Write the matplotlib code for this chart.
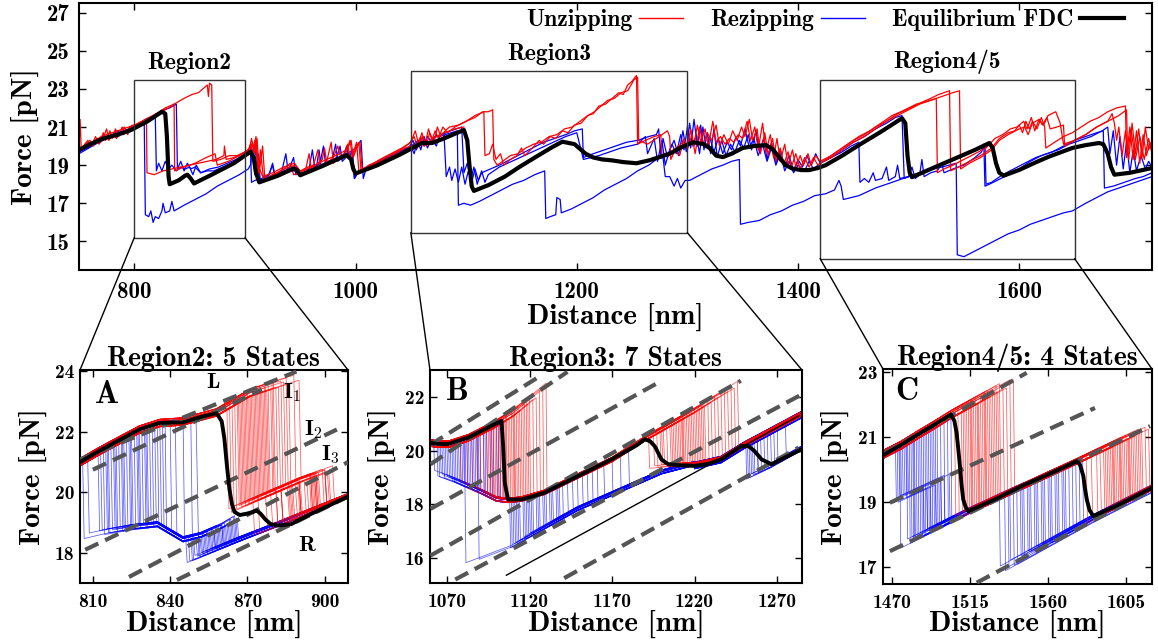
import numpy as np
import matplotlib.pyplot as plt
from matplotlib.lines import Line2D
from matplotlib.patches import Rectangle, ConnectionPatch

plt.rcParams['font.family'] = 'cmb10'
plt.rcParams['mathtext.fontset'] = 'cm'
plt.rcParams['axes.unicode_minus'] = False

RED = '#ff0000'
BLUE = '#0000ff'
DASH = '#555555'

# ---------------- top panel: full trace ----------------
top_eq = [(750, 19.79), (760, 20.1), (772, 20.4), (785, 20.6), (797, 20.84), (812, 21.3), (825, 21.8),
          (828, 21.7), (829.5, 20.5), (831, 18.4), (832, 18.0), (840, 18.2), (846, 18.45), (848, 18.5),
          (851, 18.3), (854, 18.04), (870, 18.5), (890, 19.1), (905, 19.7), (908, 19.4), (910, 18.6),
          (913, 18.1), (930, 18.45), (944, 18.82), (947, 18.75), (950, 18.47), (970, 18.95), (992, 19.53),
          (996, 19.3), (998, 18.8), (1000, 18.56), (1020, 19.0), (1040, 19.55), (1060, 20.16), (1069, 20.16),
          (1080, 20.4), (1090, 20.65), (1098, 20.84), (1101, 20.3), (1103, 19.0), (1105, 17.9), (1107, 17.65),
          (1120, 17.95), (1135, 18.4), (1148, 18.9), (1165, 19.5), (1178, 19.95), (1187, 20.23), (1198, 20.1),
          (1208, 19.6), (1215, 19.4), (1223, 19.3), (1232, 19.25), (1242, 19.16), (1254, 19.1), (1266, 19.26),
          (1284, 19.6), (1295, 19.95), (1305, 20.2), (1315, 20.1), (1320, 19.9), (1326, 19.5), (1332, 19.42),
          (1340, 19.6), (1350, 19.9), (1360, 20.0), (1371, 20.05), (1377, 19.85), (1383, 19.4), (1389, 19.0),
          (1395, 18.82), (1403, 18.74), (1410, 18.74), (1418, 18.85), (1425, 19.0), (1440, 19.5), (1455, 20.05),
          (1475, 20.75), (1494, 21.46), (1497, 21.2), (1499, 19.5), (1501, 18.6), (1503, 18.37), (1520, 18.8),
          (1540, 19.3), (1560, 19.8), (1573, 20.16), (1576, 19.9), (1579, 19.1), (1582, 18.6), (1586, 18.45),
          (1600, 18.75), (1615, 19.15), (1627, 19.45), (1648, 19.9), (1660, 20.05), (1672, 20.16), (1676, 20.1),
          (1680, 19.6), (1683, 18.9), (1686, 18.5), (1700, 18.6), (1720, 18.85)]

red_top_1 = [(750, 20.0), (751, 21.4), (752, 19.9), (756, 20.1), (760, 20.3), (763, 20.0), (766, 20.4), (769, 20.2),
             (772, 20.7), (774, 20.3), (778, 20.8), (780, 20.4), (783, 20.9), (786, 20.5), (789, 21.0), (792, 20.7),
             (796, 21.0), (800, 21.1), (805, 21.2), (812, 21.4), (820, 21.7), (828, 22.0), (836, 22.2), (845, 22.5),
             (852, 22.7), (858, 22.8), (862, 23.0), (866, 23.2), (867, 22.6), (868, 23.3), (870, 23.2), (871, 19.2),
             (878, 19.3), (886, 19.5), (893, 19.5), (900, 19.7), (905, 19.9), (907, 20.2), (909, 19.6), (911, 20.4),
             (913, 18.6), (916, 20.0), (918, 18.3), (925, 18.5), (932, 18.7), (940, 18.9), (946, 19.0), (950, 18.7),
             (957, 18.9), (962, 19.0), (966, 19.8), (968, 18.9), (974, 19.2), (978, 20.2), (980, 19.1), (985, 19.4),
             (990, 19.6), (993, 20.1), (995, 19.3), (999, 19.7), (1003, 20.2), (1005, 18.7), (1012, 19.0),
             (1020, 19.2), (1030, 19.5), (1040, 19.8), (1048, 20.1), (1053, 20.5), (1056, 19.9), (1060, 20.7),
             (1063, 20.1), (1066, 20.9), (1069, 20.3), (1072, 20.8), (1075, 20.4), (1079, 21.0), (1083, 20.7),
             (1090, 21.0), (1100, 21.3), (1108, 21.6), (1116, 21.8), (1117, 19.5), (1121, 19.6), (1124, 20.1),
             (1127, 19.3), (1131, 19.6), (1134, 19.0), (1140, 19.3), (1146, 19.5), (1150, 19.9), (1153, 19.5),
             (1160, 19.9), (1166, 20.3), (1170, 20.1), (1176, 20.5), (1181, 20.4), (1187, 20.8), (1192, 20.7),
             (1198, 21.1), (1204, 21.2), (1210, 21.6), (1215, 21.7), (1220, 22.1), (1226, 22.2), (1232, 22.5),
             (1238, 22.8), (1242, 22.7), (1246, 23.2), (1250, 23.4), (1254, 23.7), (1255, 20.1), (1262, 20.3),
             (1270, 20.5), (1276, 20.6), (1277, 19.5), (1283, 19.6), (1290, 19.9), (1296, 20.2), (1300, 20.0),
             (1303, 20.9), (1306, 20.0), (1309, 21.1), (1312, 20.2), (1316, 20.9), (1319, 20.0), (1323, 21.3),
             (1326, 20.2), (1330, 20.5), (1334, 20.1), (1338, 20.4), (1342, 20.2), (1346, 20.6), (1350, 20.4),
             (1354, 21.3), (1357, 20.3), (1361, 21.0), (1364, 19.8), (1368, 21.2), (1371, 19.7), (1375, 20.6),
             (1378, 19.4), (1381, 20.4), (1384, 19.2), (1388, 20.1), (1391, 19.0), (1395, 19.8), (1398, 18.9),
             (1402, 19.5), (1405, 19.0), (1409, 19.6), (1412, 19.0), (1416, 19.5), (1420, 19.2), (1430, 19.5),
             (1440, 19.9), (1450, 20.3), (1460, 20.6), (1470, 21.0), (1480, 21.3), (1490, 21.7), (1498, 21.9),
             (1505, 22.1), (1512, 22.3), (1520, 22.5), (1527, 22.7), (1532, 22.8), (1537, 22.9), (1538, 18.7),
             (1545, 18.9), (1555, 19.2), (1565, 19.5), (1575, 19.9), (1582, 20.4), (1590, 20.7), (1596, 20.8),
             (1600, 21.1), (1603, 20.7), (1606, 21.3), (1609, 20.9), (1612, 21.3), (1616, 20.9), (1620, 21.5),
             (1623, 21.0), (1624, 19.9), (1632, 20.2), (1640, 20.5), (1648, 20.7), (1656, 21.0), (1664, 21.3),
             (1672, 21.5), (1680, 21.8), (1688, 22.0), (1696, 22.1), (1697, 19.4), (1700, 21.0), (1703, 19.3),
             (1706, 20.8), (1709, 19.1), (1712, 20.6), (1715, 19.5), (1718, 20.2), (1720, 19.7)]

red_top_2 = [(750, 19.9), (754, 20.0), (758, 20.3), (761, 20.0), (765, 20.5), (768, 20.1), (771, 20.3), (775, 20.9),
             (777, 20.3), (781, 20.6), (784, 20.4), (788, 20.8), (791, 21.0), (794, 20.6), (798, 21.1), (802, 21.0),
             (807, 21.2), (811, 21.3), (811.5, 18.6), (818, 18.5), (826, 18.7), (834, 18.8), (842, 18.9), (850, 19.0),
             (858, 19.1), (866, 19.2), (874, 19.3), (881, 19.5), (881.5, 20.0), (883, 19.3), (890, 19.4), (898, 19.6),
             (904, 19.8), (906, 20.4), (908, 19.7), (910, 20.5), (912, 18.5), (914, 19.8), (917, 18.2), (923, 18.4),
             (930, 18.6), (935, 18.8), (941, 19.1), (944, 18.5), (950, 18.6), (955, 18.8), (958, 19.6), (960, 18.8),
             (964, 19.0), (970, 19.3), (972, 19.9), (974, 19.1), (980, 19.4), (984, 20.0), (987, 19.3), (991, 19.6),
             (996, 20.3), (998, 19.4), (1001, 19.9), (1004, 20.2), (1006, 18.8), (1014, 19.0), (1022, 19.3),
             (1032, 19.6), (1042, 19.9), (1050, 20.2), (1054, 20.8), (1057, 20.1), (1061, 20.5), (1064, 20.0),
             (1067, 20.7), (1071, 20.2), (1074, 21.0), (1077, 20.5), (1081, 20.8), (1085, 21.0), (1093, 21.1),
             (1100, 21.3), (1108, 21.5), (1115, 21.8), (1120, 21.8), (1124, 21.9), (1125, 19.3), (1128, 19.0),
             (1133, 19.2), (1140, 19.5), (1147, 19.6), (1154, 19.9), (1161, 20.1), (1168, 20.2), (1175, 20.5),
             (1182, 20.6), (1189, 20.9), (1196, 21.0), (1203, 21.3), (1210, 21.6), (1216, 21.8), (1222, 22.1),
             (1228, 22.4), (1234, 22.5), (1240, 22.8), (1246, 22.9), (1252, 23.5), (1255, 23.6), (1256, 20.3),
             (1264, 20.1), (1272, 20.4), (1282, 20.8), (1284, 20.5), (1285, 19.3), (1289, 19.8), (1293, 19.5),
             (1297, 20.4), (1300, 19.8), (1304, 20.6), (1307, 19.6), (1311, 21.0), (1314, 20.1), (1318, 20.7),
             (1322, 20.3), (1326, 21.1), (1329, 20.0), (1333, 20.6), (1337, 20.1), (1341, 20.8), (1345, 20.3),
             (1349, 21.0), (1352, 20.5), (1356, 21.4), (1359, 20.3), (1363, 20.9), (1366, 19.6), (1370, 20.7),
             (1373, 19.5), (1377, 20.4), (1380, 19.2), (1384, 19.9), (1387, 19.0), (1391, 19.7), (1394, 18.9),
             (1398, 19.6), (1402, 18.8), (1406, 19.4), (1410, 18.9), (1414, 19.4), (1418, 19.0), (1425, 19.3),
             (1435, 19.7), (1445, 20.1), (1455, 20.5), (1465, 20.8), (1475, 21.2), (1485, 21.6), (1493, 21.8),
             (1500, 22.0), (1507, 22.2), (1514, 22.3), (1520, 22.4), (1525, 22.5), (1526, 18.6), (1532, 18.8),
             (1540, 19.0), (1550, 19.3), (1560, 19.6), (1570, 19.9), (1578, 20.4), (1585, 20.6), (1592, 20.9),
             (1598, 21.0), (1604, 21.3), (1607, 20.9), (1611, 21.5), (1614, 20.8), (1618, 21.4), (1621, 21.1),
             (1625, 21.5), (1628, 20.9), (1634, 21.0), (1640, 21.1), (1641, 20.0), (1650, 20.3), (1660, 20.6),
             (1670, 21.0), (1680, 21.3), (1684, 21.7), (1686, 21.2), (1688, 20.3), (1690, 21.0), (1693, 19.5),
             (1696, 20.8), (1699, 19.3), (1702, 21.2), (1705, 19.6), (1708, 20.9), (1711, 19.4), (1714, 21.0),
             (1717, 19.8), (1720, 20.3)]

red_top_3 = [(750, 19.8), (760, 20.1), (770, 20.5), (780, 20.7), (790, 20.9), (800, 21.1), (810, 21.4), (820, 21.7),
             (828, 21.9), (834, 22.1), (836, 22.2), (836.5, 18.7), (845, 18.9), (855, 19.1), (865, 19.4), (873, 19.6),
             (875, 19.0), (885, 19.2), (895, 19.5), (903, 19.8), (905, 20.1), (907, 19.5), (909, 20.3), (912, 19.0),
             (916, 18.4), (925, 18.6), (935, 18.9), (945, 19.1), (949, 18.6), (960, 18.9), (970, 19.2), (982, 19.5),
             (992, 19.8), (995, 20.3), (997, 19.5), (1001, 20.2), (1003, 18.7), (1015, 19.0), (1030, 19.4),
             (1045, 19.9), (1056, 20.1), (1059, 20.5), (1062, 20.0), (1070, 20.4), (1080, 20.7), (1090, 20.9),
             (1098, 21.0), (1420, 19.1), (1430, 19.4), (1440, 19.8), (1450, 20.2), (1460, 20.5), (1470, 20.9),
             (1480, 21.3), (1490, 21.6), (1500, 21.9), (1510, 22.2), (1520, 22.4), (1530, 22.6), (1540, 22.8),
             (1546, 22.9), (1547, 18.8), (1555, 19.1), (1565, 19.4), (1575, 19.8), (1582, 20.3), (1590, 20.6),
             (1600, 20.9), (1605, 21.0), (1608, 20.6), (1612, 21.2), (1618, 21.4), (1622, 21.1), (1626, 21.6),
             (1633, 21.8), (1637, 21.2), (1640, 20.1), (1650, 20.3), (1660, 20.6), (1670, 21.0), (1680, 21.3),
             (1690, 21.6), (1697, 21.9), (1698, 19.6), (1701, 20.9), (1705, 19.3), (1709, 20.5), (1713, 19.3),
             (1717, 20.4), (1720, 19.6)]
red_top_3_break = 1098  # trace 3 is missing between this x and 1420

blue_top_1 = [(750, 19.7), (755, 19.9), (760, 20.0), (765, 20.2), (770, 20.3), (775, 20.5), (780, 20.6), (785, 20.8),
              (790, 20.6), (795, 20.9), (800, 21.0), (805, 21.1), (809, 21.2), (810, 16.4), (813, 16.3), (815, 16.6),
              (817, 16.0), (819, 16.3), (822, 16.2), (825, 16.6), (826, 17.0), (828, 16.5), (832, 16.6), (834, 17.1),
              (836, 16.6), (845, 16.9), (855, 17.2), (865, 17.5), (875, 17.9), (885, 18.2), (895, 18.5), (903, 18.8),
              (905, 19.0), (907, 19.8), (909, 18.5), (912, 19.6), (914, 18.1), (920, 18.2), (930, 18.5), (940, 18.8),
              (944, 19.4), (946, 18.5), (953, 18.6), (960, 18.9), (965, 19.0), (967, 19.8), (969, 18.9), (976, 19.2),
              (983, 19.4), (986, 20.0), (988, 19.2), (993, 19.5), (997, 19.7), (999, 18.3), (1002, 18.6), (1010, 18.8),
              (1020, 19.1), (1030, 19.4), (1040, 19.7), (1048, 19.9), (1052, 20.3), (1055, 19.8), (1058, 20.4),
              (1062, 20.0), (1065, 20.5), (1069, 20.2), (1073, 20.6), (1077, 20.3), (1081, 20.6), (1092, 20.8),
              (1093, 16.9), (1098, 17.0), (1104, 16.9), (1112, 17.1), (1122, 17.4), (1132, 17.7), (1142, 18.0),
              (1152, 18.2), (1162, 18.5), (1171, 18.7), (1172, 16.2), (1176, 16.3), (1181, 16.4), (1182, 17.3),
              (1185, 17.2), (1186, 16.5), (1195, 16.7), (1205, 17.0), (1215, 17.3), (1225, 17.7), (1235, 18.0),
              (1245, 18.3), (1255, 18.7), (1265, 19.0), (1272, 19.3), (1278, 19.4), (1280, 18.4), (1284, 18.4),
              (1288, 17.9), (1291, 18.3), (1294, 17.8), (1298, 18.2), (1302, 18.2), (1312, 18.5), (1322, 18.8),
              (1332, 19.0), (1340, 19.2), (1347, 19.3), (1348, 15.9), (1355, 16.0), (1365, 16.1), (1375, 16.4),
              (1385, 16.6), (1395, 16.9), (1405, 17.1), (1415, 17.4), (1425, 17.5), (1433, 17.7), (1437, 18.2),
              (1439, 17.9), (1441, 17.2), (1455, 17.4), (1470, 17.8), (1485, 18.1), (1500, 18.4), (1515, 18.7),
              (1530, 18.9), (1543, 19.1), (1544, 14.3), (1550, 14.2), (1560, 14.5), (1570, 14.8), (1580, 15.1),
              (1590, 15.4), (1600, 15.6), (1610, 15.9), (1620, 16.1), (1630, 16.3), (1640, 16.5), (1648, 16.6),
              (1660, 17.0), (1670, 17.3), (1680, 17.6), (1690, 17.8), (1700, 18.0), (1710, 18.2), (1720, 18.4)]

blue_top_2 = [(750, 19.6), (756, 19.8), (762, 20.0), (768, 20.2), (774, 20.4), (780, 20.5), (786, 20.7), (792, 20.8),
              (798, 21.0), (804, 21.1), (810, 21.3), (816, 21.4), (819, 21.5), (820, 18.7), (822, 19.1), (825, 18.7),
              (828, 19.2), (831, 18.8), (834, 19.0), (838, 18.7), (842, 18.9), (846, 18.8), (850, 18.9), (853, 18.5),
              (856, 19.0), (860, 18.6), (866, 18.7), (872, 18.7), (880, 18.9), (888, 19.1), (896, 19.3), (904, 19.6),
              (906, 20.0), (908, 18.9), (910, 19.9), (913, 18.2), (920, 18.3), (925, 19.0), (927, 18.4), (933, 18.6),
              (937, 19.6), (939, 18.7), (945, 18.7), (952, 18.5), (958, 18.8), (961, 19.8), (963, 18.9), (968, 19.1),
              (971, 20.0), (973, 19.0), (979, 19.3), (982, 20.1), (984, 19.2), (989, 19.5), (992, 20.0), (994, 19.4),
              (997, 19.7), (999, 18.3), (1003, 18.7), (1012, 18.9), (1022, 19.2), (1032, 19.5), (1042, 19.8),
              (1050, 20.0), (1053, 19.6), (1056, 20.3), (1059, 19.8), (1062, 20.5), (1065, 19.9), (1069, 20.4),
              (1073, 20.0), (1076, 20.5), (1080, 20.6), (1082, 18.4), (1085, 18.9), (1087, 18.2), (1090, 18.8),
              (1093, 18.1), (1096, 18.9), (1099, 18.0), (1102, 18.7), (1105, 18.1), (1108, 18.8), (1111, 18.2),
              (1114, 18.6), (1118, 18.7), (1130, 19.0), (1140, 19.3), (1150, 19.6), (1160, 19.9), (1170, 20.2),
              (1180, 20.4), (1190, 20.6), (1198, 20.8), (1205, 20.9), (1206, 19.4), (1215, 19.6), (1225, 19.8),
              (1235, 20.0), (1245, 20.2), (1255, 20.3), (1265, 20.5), (1272, 20.6), (1274, 20.9), (1276, 19.5),
              (1278, 20.4), (1282, 19.4), (1286, 20.1), (1290, 19.6), (1294, 20.6), (1297, 19.8), (1300, 21.0),
              (1303, 19.9), (1306, 21.4), (1309, 20.0), (1312, 21.1), (1315, 19.8), (1318, 20.7), (1321, 19.6),
              (1324, 20.9), (1327, 19.4), (1331, 20.3), (1335, 19.5), (1339, 20.1), (1343, 19.7), (1347, 20.3),
              (1351, 19.9), (1355, 20.6), (1358, 19.8), (1362, 20.8), (1365, 19.7), (1369, 20.4), (1372, 19.3),
              (1376, 20.2), (1380, 19.1), (1384, 19.8), (1388, 18.9), (1392, 19.5), (1396, 18.7), (1400, 19.3),
              (1404, 18.9), (1408, 19.5), (1412, 19.0), (1416, 19.6), (1420, 19.1), (1430, 19.4), (1440, 19.8),
              (1450, 20.2), (1460, 20.5), (1470, 20.9), (1480, 21.2), (1488, 21.5), (1494, 21.6), (1496, 18.3),
              (1500, 18.4), (1503, 18.9), (1506, 18.3), (1510, 18.5), (1512, 19.3), (1514, 18.4), (1520, 18.6),
              (1526, 18.7), (1530, 19.1), (1532, 18.6), (1540, 18.8), (1550, 19.0), (1560, 19.4), (1566, 19.7),
              (1568, 20.1), (1569, 17.9), (1573, 18.0), (1580, 18.2), (1590, 18.5), (1600, 18.8), (1610, 19.2),
              (1620, 19.5), (1630, 19.7), (1640, 20.0), (1650, 20.3), (1660, 20.5), (1670, 20.7), (1676, 20.8),
              (1677, 17.8), (1685, 17.9), (1695, 18.1), (1705, 18.3), (1712, 18.4), (1720, 18.6)]

blue_top_3 = [(750, 19.7), (758, 19.9), (766, 20.2), (772, 20.3), (778, 20.5), (784, 20.6), (790, 20.8), (796, 20.9),
              (802, 21.1), (810, 21.4), (818, 21.6), (826, 21.9), (832, 22.0), (838, 22.2), (839, 18.8), (842, 19.2),
              (845, 18.7), (848, 19.1), (851, 18.8), (855, 18.9), (860, 18.6), (868, 18.8), (876, 18.9), (884, 19.1),
              (892, 19.3), (900, 19.6), (905, 19.8), (906, 18.1), (909, 18.2), (915, 18.3), (922, 18.5), (925, 19.1),
              (927, 18.5), (935, 18.7), (945, 18.9), (950, 18.5), (958, 18.7), (965, 18.9), (975, 19.2), (985, 19.4),
              (995, 19.7), (1000, 19.9), (1005, 20.3), (1007, 18.3), (1010, 18.9), (1020, 19.2), (1030, 19.4),
              (1040, 19.7), (1050, 20.0), (1055, 20.2), (1060, 20.4), (1066, 20.2), (1072, 20.5), (1078, 20.6),
              (1086, 20.8), (1096, 21.0), (1098, 18.6), (1101, 19.1), (1104, 18.2), (1107, 18.9), (1110, 18.0),
              (1114, 18.7), (1117, 18.1), (1120, 18.5), (1130, 18.9), (1145, 19.3), (1160, 19.7), (1175, 20.1),
              (1190, 20.5), (1200, 20.7), (1206, 19.3), (1220, 19.5), (1240, 19.9), (1255, 20.1), (1262, 20.5),
              (1264, 19.6), (1270, 20.4), (1273, 19.2), (1277, 20.3), (1280, 19.0), (1284, 19.8), (1288, 20.3),
              (1292, 19.5), (1296, 20.8), (1299, 19.7), (1302, 21.2), (1305, 20.0), (1308, 20.6), (1311, 19.6),
              (1314, 21.0), (1317, 19.9), (1320, 20.5), (1324, 19.7), (1328, 20.4), (1332, 19.6), (1336, 20.2),
              (1340, 19.8), (1344, 20.5), (1348, 20.0), (1352, 20.9), (1356, 19.9), (1360, 20.4), (1364, 19.5),
              (1368, 20.1), (1372, 19.2), (1376, 19.9), (1380, 19.0), (1384, 19.6), (1388, 18.7), (1392, 19.2),
              (1396, 18.6), (1400, 19.0), (1406, 18.7), (1410, 19.2), (1414, 18.8), (1420, 19.1), (1430, 19.4),
              (1440, 19.7), (1448, 20.0), (1455, 20.2), (1456, 18.1), (1460, 18.3), (1464, 18.1), (1468, 18.6),
              (1470, 18.2), (1476, 18.3), (1480, 18.9), (1482, 18.2), (1488, 18.4), (1490, 19.0), (1492, 18.3),
              (1500, 18.4), (1510, 18.6), (1520, 18.8), (1530, 19.0), (1540, 19.3), (1550, 19.5), (1560, 19.8),
              (1567, 20.0), (1569, 20.1), (1570, 18.0), (1575, 18.1), (1585, 18.5), (1595, 18.8), (1605, 19.1),
              (1615, 19.4), (1625, 19.6), (1635, 19.8), (1645, 20.1), (1655, 20.3), (1665, 20.5), (1675, 20.8),
              (1680, 21.0), (1682, 19.6), (1685, 20.8), (1688, 19.0), (1691, 20.5), (1694, 18.8), (1697, 20.2),
              (1700, 18.6), (1703, 19.8), (1706, 18.7), (1710, 19.5), (1714, 18.8), (1717, 19.2), (1720, 18.9)]

# zoom boxes on the top panel: (label, x0, x1, y0, y1)
regions = [('Region2', 800, 900, 15.2, 23.47),
           ('Region3', 1050, 1300, 15.46, 23.96),
           ('Region4/5', 1420, 1650, 14.1, 23.47)]

# ---------------- panel A ----------------
A_eq = [(805, 21.0), (811, 21.3), (817, 21.58), (828, 22.08), (836, 22.3), (845, 22.32), (852, 22.5), (858, 22.62),
        (860, 22.35), (861, 21.8), (862, 20.9), (863, 20.1), (864, 19.6), (865, 19.35), (867, 19.25), (870, 19.3),
        (872, 19.35), (873.5, 19.4), (875, 19.3), (877, 19.1), (879, 18.95), (882, 18.9), (887, 18.95),
        (895, 19.3), (909, 19.86)]
A_L = [(805, 21.0), (811, 21.3), (817, 21.58), (828, 22.08), (836, 22.3), (845, 22.35), (858, 22.65), (871, 23.3),
       (880, 23.55), (909, 24.3)]
A_I3 = [(855, 19.1), (863, 19.4), (875, 19.85), (890, 20.4), (909, 21.0)]
A_mid = [(805, 18.5), (815, 18.7), (825, 18.85), (835, 18.95), (840, 18.7), (845, 18.45), (852, 18.6), (860, 18.9),
         (866, 19.2), (880, 19.6), (909, 20.4)]
A_R = [(805, 16.3), (838, 17.45), (851, 17.87), (866, 18.4), (881, 18.9), (895, 19.38), (909, 19.86)]
A_dash = [[(805, 21.09), (889, 24.0)], [(810, 20.75), (875.6, 23.4)], [(807, 18.1), (904.7, 22.08)],
          [(824, 17.2), (909, 21.0)], [(842.6, 17.1), (909, 19.86)]]
A_red_r1 = [862, 863, 864, 865, 866, 866.5, 867, 868, 868.5, 869, 870, 870.5, 871, 872, 872.5, 873, 874, 874.5, 875,
            876, 876.5, 877, 878, 879, 880, 881, 882, 883, 884, 885, 886, 888, 890, 871.5, 869.5, 867.5, 873.5,
            877.5, 879.5, 875.5]
A_red_gap = [12, 20, 8, 25, 15, 30, 10, 18, 22, 14, 9, 27, 16, 11, 24, 19, 7, 13, 21, 17, 10, 26, 12, 15, 20, 9, 18,
             14, 11, 16, 13, 8, 10, 23, 19, 28, 12, 17, 22, 14]
A_blue_b1 = [848, 850, 851, 852, 853, 854, 855, 856, 857, 858, 859, 860, 861, 862, 863, 864, 865, 866, 849, 852.5,
             855.5, 858.5, 861.5, 847, 853.5, 856.5, 859.5, 862.5, 864.5, 850.5, 857.5, 860.5, 854.5, 863.5, 851.5,
             846, 865.5, 848.5, 857, 860]
A_blue_b2 = [812, 814, 815, 816, 817, 818, 819, 820, 821, 822, 823, 824, 825, 826, 827, 828, 829, 830, 831, 832, 833,
             834, 835, 836, 838, 840, 842, 845, 848, 850, 813, 815.5, 818.5, 821.5, 824.5, 827.5, 830.5, 808, 806, 837]

# ---------------- panel B ----------------
B_eq = [(1058.5, 20.3), (1064, 20.25), (1070.6, 20.24), (1076, 20.35), (1082.7, 20.48), (1090, 20.7),
        (1098.9, 20.98), (1103, 21.1), (1104, 20.2), (1105, 18.8), (1107, 18.18), (1115, 18.18), (1122, 18.3),
        (1129, 18.43), (1149.4, 19.05), (1169.6, 19.67), (1185, 20.2), (1189.8, 20.42), (1193, 20.35),
        (1196, 20.15), (1199.9, 19.67), (1204, 19.49), (1212, 19.45), (1220, 19.43), (1228, 19.5), (1236, 19.67),
        (1243, 19.95), (1248.5, 20.17), (1252.5, 20.17), (1256, 20.0), (1260.6, 19.67), (1266.7, 19.49),
        (1275, 19.75), (1285, 20.05)]
B_top = [(1058, 20.3), (1064, 20.25), (1071, 20.24), (1083, 20.48), (1099, 20.98), (1110, 21.4), (1130, 22.4),
         (1140, 22.8)]
B_mid = [(1058, 19.3), (1075, 18.9), (1090, 18.5), (1100, 18.2), (1107, 18.15), (1115, 18.2), (1129, 18.45),
         (1149, 19.05), (1170, 19.67), (1190, 20.45), (1220, 21.5), (1250, 22.65), (1285, 23.8)]
B_low3 = [(1185, 19.35), (1204, 19.45), (1220, 19.45), (1236, 19.67), (1250, 20.2), (1285, 21.35)]
B_L5 = [(1058, 15.1), (1077, 15.69), (1109, 16.44), (1149, 17.81), (1200, 19.18), (1220, 19.5), (1285, 21.3)]
B_L6 = [(1240, 18.7), (1266, 19.45), (1285, 20.1)]
B_dash = [[(1060, 20.22), (1125, 22.72)], [(1060, 19.49), (1143, 22.93)], [(1060, 17.83), (1198, 22.53)],
          [(1060, 16.09), (1248, 22.6)], [(1075, 15.2), (1284, 22.06)], [(1141, 15.25), (1283, 20.11)]]
B_thin = [(1106, 15.36), (1283, 21.29)]
B_red_r1 = [1078, 1082, 1085, 1088, 1090, 1092, 1094, 1096, 1097, 1098, 1099, 1100, 1101, 1102, 1103, 1104, 1105,
            1106, 1107, 1108, 1109, 1110, 1111, 1112, 1113, 1114, 1115, 1116, 1117, 1118, 1119, 1120, 1122, 1124,
            1126, 1128, 1130, 1095, 1105.5, 1110.5]
B_red_r2 = [1192, 1195, 1197, 1199, 1201, 1203, 1205, 1206, 1207, 1208, 1209, 1210, 1211, 1212, 1213, 1214, 1215,
            1216, 1217, 1218, 1219, 1220, 1221, 1222, 1223, 1224, 1225, 1226, 1228, 1230, 1232, 1234, 1236, 1238,
            1240, 1242, 1244, 1246, 1200, 1212.5]
B_blue_b1 = [1108, 1110, 1112, 1114, 1116, 1118, 1120, 1122, 1124, 1126, 1128, 1130, 1132, 1134, 1136, 1138, 1140,
             1143, 1146, 1149, 1152, 1155, 1158, 1161, 1165, 1170, 1175, 1180, 1109, 1113, 1117, 1121, 1125, 1129,
             1133, 1137, 1081, 1089, 1111, 1119]
B_blue_b2 = [1062, 1064, 1066, 1068, 1070, 1072, 1074, 1076, 1078, 1080, 1082, 1084, 1086, 1088, 1090, 1092, 1094,
             1096, 1098, 1100, 1102, 1104, 1065, 1069, 1073, 1077, 1081, 1085, 1089, 1093, 1097, 1101, 1067, 1071,
             1075, 1079, 1080.5, 1088.5, 1083, 1087]
B_blue_b3 = [1251, 1290, 1290, 1254, 1290, 1258, 1290, 1290, 1262, 1290, 1253, 1290, 1290, 1266, 1290, 1290, 1256,
             1290, 1290, 1270, 1290, 1252, 1290, 1290, 1260, 1290, 1290, 1275, 1290, 1290, 1255, 1290, 1290, 1264,
             1290, 1290, 1258, 1290, 1290, 1268]

# ---------------- panel C ----------------
C_eq = [(1465, 20.45), (1475, 20.75), (1485, 21.08), (1495, 21.4), (1504, 21.7), (1506, 21.5), (1507.3, 21.13),
        (1508.5, 20.5), (1509.2, 20.11), (1510.2, 19.5), (1511.1, 19.08), (1512.5, 18.85), (1514, 18.72),
        (1530, 19.1), (1545, 19.5), (1560, 19.85), (1576.6, 20.26), (1578.5, 20.15), (1580.4, 19.8),
        (1581.4, 19.4), (1582.4, 19.08), (1584, 18.75), (1586.2, 18.57), (1600, 18.9), (1620, 19.44)]
C_c1 = [(1464, 20.45), (1475, 20.75), (1485, 21.08), (1495, 21.4), (1504, 21.7), (1548, 23.0)]
C_c2 = [(1464, 18.85), (1587, 21.9)]
C_c3 = [(1464, 17.38), (1514, 18.72), (1576.6, 20.26), (1620, 21.37)]
C_c4 = [(1464, 15.0), (1518.9, 16.52), (1586, 18.5), (1620, 19.42)]
C_dash = [[(1466, 20.52), (1547.7, 22.98)], [(1468.8, 18.98), (1587.1, 21.9)], [(1468.8, 17.49), (1618.9, 21.34)],
          [(1518.9, 16.52), (1619.9, 19.39)]]
C_red_r1 = [1506, 1508, 1510, 1511, 1512, 1513, 1514, 1515, 1516, 1517, 1518, 1519, 1520, 1521, 1522, 1523, 1524,
            1525, 1526, 1527, 1528, 1529, 1530, 1531, 1532, 1534, 1536, 1538, 1540, 1515.5, 1519.5, 1523.5]
C_red_r2 = [1582, 1585, 1588, 1590, 1592, 1594, 1595, 1596, 1597, 1598, 1599, 1600, 1601, 1602, 1603, 1604, 1605,
            1606, 1607, 1608, 1609, 1610, 1611, 1612, 1613, 1614, 1616, 1618, 1593, 1597.5, 1601.5, 1606.5]
C_blue_b1 = [1532, 1535, 1538, 1540, 1542, 1544, 1546, 1548, 1550, 1552, 1554, 1556, 1558, 1560, 1562, 1564, 1566,
             1568, 1570, 1572, 1574, 1576, 1578, 1580, 1545, 1553, 1561, 1569, 1537, 1557, 1565, 1549]
C_blue_b2 = [1472, 1473, 1474, 1475, 1476, 1477, 1478, 1479, 1480, 1481, 1482, 1483, 1484, 1485, 1486, 1487, 1488,
             1489, 1490, 1491, 1492, 1493, 1494, 1495, 1496, 1498, 1500, 1502, 1504, 1474.5, 1478.5, 1482.5]
C_blue_via_c2 = [1488, 1495, 1500, 1492, 1498, 1503, 1490, 1497]

# small trace-to-trace spread of the bands (pN)
spread = [0.00, 0.07, -0.05, 0.11, -0.09, 0.03, -0.12, 0.08, -0.03, 0.12, -0.06, 0.05, -0.10, 0.02, 0.09,
          -0.13, 0.04, -0.04, 0.06, -0.07, 0.10]


def xy(seq):
    a = np.asarray(seq, dtype=float)
    return a[:, 0], a[:, 1]


def piece(branch, x0, x1, dy):
    bx, by = xy(branch)
    inner = bx[(bx > x0) & (bx < x1)]
    xs = np.concatenate([[x0], inner, [x1]])
    return xs, np.interp(xs, bx, by) + dy


def trace(segs, k):
    xs, ys = [], []
    for j, (br, a, b) in enumerate(segs):
        if b <= a:
            continue
        x, y = piece(br, a, b, spread[(k * 3 + j) % len(spread)])
        xs.append(x)
        ys.append(y)
    return np.concatenate(xs), np.concatenate(ys)


def style(ax, xt, yt, fs):
    ax.set_xticks(xt)
    ax.set_yticks(yt)
    ax.tick_params(direction='in', top=True, right=True, length=5, width=1, labelsize=fs)
    ax.tick_params(axis='x', pad=7)
    ax.tick_params(axis='y', pad=4)
    for s in ax.spines.values():
        s.set_linewidth(1.5)


fig = plt.figure(figsize=(11.58, 6.43), dpi=100)
ax = fig.add_axes([0.0682, 0.580, 0.9266, 0.4153])
axA = fig.add_axes([0.0691, 0.0933, 0.2314, 0.3313])
axB = fig.add_axes([0.3713, 0.0933, 0.3212, 0.3313])
axC = fig.add_axes([0.7625, 0.0918, 0.2323, 0.3344])

# ---- top panel ----
for tr in (blue_top_1, blue_top_2, blue_top_3):
    ax.plot(*xy(tr), color=BLUE, lw=0.9)
for tr in (red_top_1, red_top_2):
    ax.plot(*xy(tr), color=RED, lw=0.9)
rx, ry = xy(red_top_3)
cut = np.searchsorted(rx, red_top_3_break) + 1
ax.plot(rx[:cut], ry[:cut], color=RED, lw=0.9)
ax.plot(rx[cut:], ry[cut:], color=RED, lw=0.9)
ax.plot(*xy(top_eq), color='black', lw=3, zorder=5)

for name, x0, x1, y0, y1 in regions:
    ax.add_patch(Rectangle((x0, y0), x1 - x0, y1 - y0, fill=False, ec='#333333', lw=1.0, zorder=6))
    ax.text((x0 + x1) / 2, y1 + 0.3, name, ha='center', va='bottom', fontsize=17)

ax.set_xlim(750, 1720)
ax.set_ylim(13.5, 27.5)
style(ax, [800, 1000, 1200, 1400, 1600], [15, 17, 19, 21, 23, 25, 27], 16.5)
ax.tick_params(axis='x', pad=8)
ax.tick_params(axis='y', pad=7)
ax.set_xlabel('Distance [nm]', fontsize=21, labelpad=0)
ax.set_ylabel('Force [pN]', fontsize=21, labelpad=5)

handles = [Line2D([], [], color=RED, lw=1), Line2D([], [], color=BLUE, lw=1), Line2D([], [], color='black', lw=3)]
ax.legend(handles, ['Unzipping', 'Rezipping', 'Equilibrium FDC'], loc='upper right', bbox_to_anchor=(0.985, 1.02),
          ncol=3, frameon=False, markerfirst=False, fontsize=17, handlelength=1.85, handletextpad=0.3,
          columnspacing=1.15, borderaxespad=0.1)

# ---- panel A ----
for k in range(len(A_blue_b1)):
    b1, b2 = A_blue_b1[k], A_blue_b2[k]
    axA.plot(*trace([(A_L, 805, b2), (A_mid, b2 + 0.6, b1), (A_R, b1 + 0.6, 909)], k),
             color=BLUE, lw=0.55, alpha=0.65)
for k in range(len(A_red_r1)):
    r1 = A_red_r1[k]
    r2 = r1 + A_red_gap[k]
    axA.plot(*trace([(A_L, 805, r1), (A_I3, r1 + 0.8, min(r2, 909)), (A_R, r2 + 0.8, 909)], k),
             color=RED, lw=0.55, alpha=0.65)
for seg in A_dash:
    axA.plot(*xy(seg), color=DASH, lw=3, ls=(0, (3.5, 1.8)), zorder=3)
axA.plot(*xy(A_eq), color='black', lw=2.8, zorder=4)
axA.set_xlim(805, 909)
axA.set_ylim(17.0, 24.05)
style(axA, [810, 840, 870, 900], [18, 20, 22, 24], 14)
axA.text(0.10, 0.885, 'A', transform=axA.transAxes, fontsize=23, ha='center', va='center')
for lab, lx, ly in [('L', 856.6, 23.64), ('I$_\\mathbf{1}$', 887.2, 23.3), ('I$_\\mathbf{2}$', 895.4, 22.08),
                    ('I$_\\mathbf{3}$', 902, 21.25), ('R', 893, 18.24)]:
    axA.text(lx, ly, lab, fontsize=16, ha='center', va='center', zorder=6)

# ---- panel B ----
for k in range(len(B_blue_b1)):
    b1, b2, b3 = B_blue_b1[k], B_blue_b2[k], B_blue_b3[k]
    axB.plot(*trace([(B_top, 1058.5, b2), (B_mid, b2 + 0.5, b1), (B_L5, b1 + 0.5, 1220),
                     (B_low3, 1220, min(b3, 1285)), (B_L6, b3 + 0.5, 1285)], k),
             color=BLUE, lw=0.55, alpha=0.65)
for k in range(len(B_red_r1)):
    r1, r2 = B_red_r1[k], B_red_r2[k]
    axB.plot(*trace([(B_top, 1058.5, r1), (B_mid, r1 + 0.6, r2), (B_low3, r2 + 0.8, 1285)], k),
             color=RED, lw=0.55, alpha=0.65)
for seg in B_dash:
    axB.plot(*xy(seg), color=DASH, lw=3, ls=(0, (3.5, 1.8)), zorder=3)
axB.plot(*xy(B_thin), color='black', lw=1.0, zorder=3)
axB.plot(*xy(B_eq), color='black', lw=2.8, zorder=4)
axB.set_xlim(1059.7, 1285)
axB.set_ylim(15.07, 23.0)
style(axB, [1070, 1120, 1170, 1220, 1270], [16, 18, 20, 22], 14)
axB.text(0.073, 0.897, 'B', transform=axB.transAxes, fontsize=23, ha='center', va='center')

# ---- panel C ----
for k in range(len(C_blue_b1)):
    b1, b2 = C_blue_b1[k], C_blue_b2[k]
    if k < len(C_blue_via_c2):
        v = C_blue_via_c2[k]
        segs = [(C_c1, 1464.8, b2), (C_c2, b2 + 0.5, v), (C_c3, v + 0.5, b1), (C_c4, b1 + 0.5, 1620)]
    else:
        segs = [(C_c1, 1464.8, b2), (C_c3, b2 + 0.5, b1), (C_c4, b1 + 0.5, 1620)]
    axC.plot(*trace(segs, k), color=BLUE, lw=0.55, alpha=0.65)
for k in range(len(C_red_r1)):
    r1, r2 = C_red_r1[k], C_red_r2[k]
    axC.plot(*trace([(C_c1, 1464.8, r1), (C_c3, r1 + 0.8, r2), (C_c4, r2 + 0.8, 1620)], k),
             color=RED, lw=0.55, alpha=0.65)
for seg in C_dash:
    axC.plot(*xy(seg), color=DASH, lw=3, ls=(0, (3.5, 1.8)), zorder=3)
axC.plot(*xy(C_eq), color='black', lw=2.8, zorder=4)
axC.set_xlim(1464.8, 1620)
axC.set_ylim(16.48, 23.1)
style(axC, [1470, 1515, 1560, 1605], [17, 19, 21, 23], 14)
axC.text(0.089, 0.893, 'C', transform=axC.transAxes, fontsize=23, ha='center', va='center')

for a, title in [(axA, 'Region2: 5 States'), (axB, 'Region3: 7 States'), (axC, 'Region4/5: 4 States')]:
    a.set_title(title, fontsize=20, pad=3)
    a.set_xlabel('Distance [nm]', fontsize=21, labelpad=-1)
    a.set_ylabel('Force [pN]', fontsize=21, labelpad=6)

# lines from the zoom boxes down to the panels
for (name, x0, x1, y0, y1), a in zip(regions, (axA, axB, axC)):
    for xb, fx in ((x0, 0), (x1, 1)):
        con = ConnectionPatch(xyA=(xb, y0), coordsA=ax.transData, xyB=(fx, 1), coordsB=a.transAxes,
                              color='black', lw=1.0)
        fig.add_artist(con)

fig.savefig('out.png', dpi=100)
